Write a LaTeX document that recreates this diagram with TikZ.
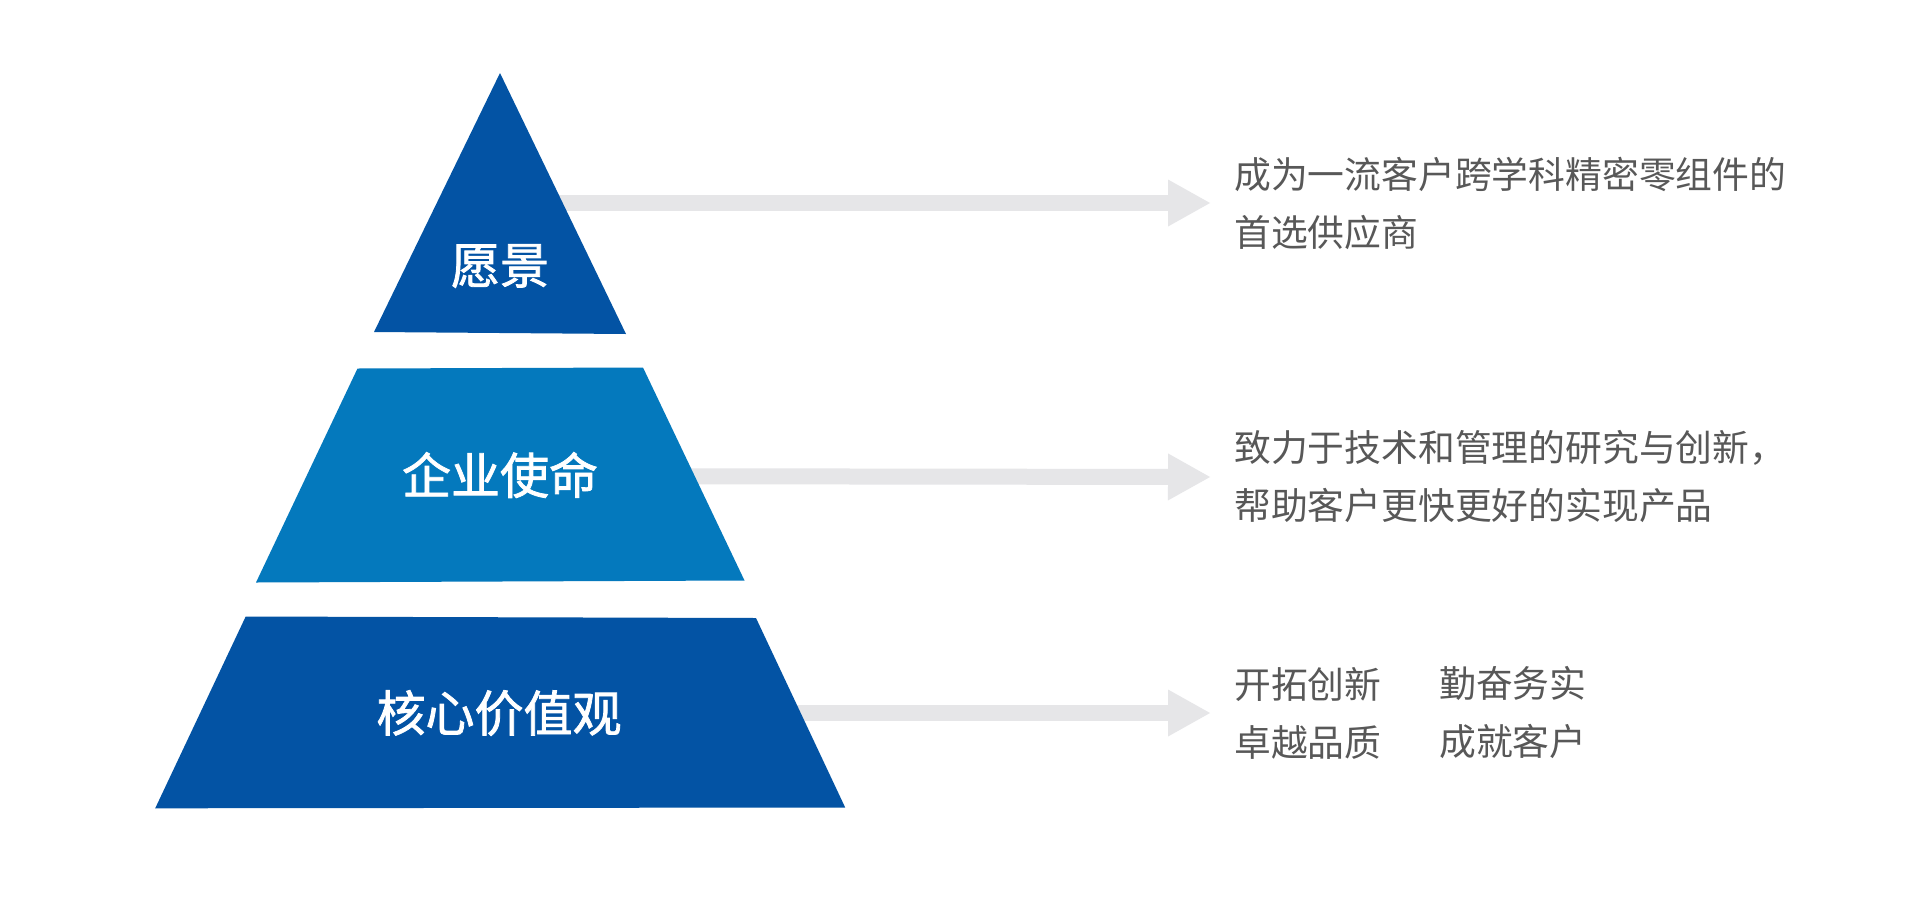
\documentclass[tikz,border=0pt]{standalone}
\usepackage{fontspec}
\newfontfamily\cjk{Noto Sans CJK SC}
\newfontfamily\cjktitle{Noto Sans CJK SC}[FakeBold=1.6]
\usetikzlibrary{arrows.meta}
\definecolor{darkblue}{HTML}{0353A4}
\definecolor{midblue}{HTML}{0479BD}
\definecolor{bargray}{HTML}{E6E6E8}
\definecolor{txtgray}{HTML}{585858}
\begin{document}
\begin{tikzpicture}[x=1pt,y=-1pt,
  title/.style={text=white, font=\cjktitle\fontsize{49}{58}\selectfont, inner sep=0pt},
  desc/.style={text=txtgray, font=\cjk\fontsize{36.8}{58}\selectfont, align=left, anchor=west, inner sep=0pt},
  bar/.style={draw=bargray, line width=16pt, -{Triangle[length=42pt,width=47pt,line width=0pt]}}]
\useasboundingbox[fill=white] (0,0) rectangle (1920,900);
% arrow anchors
\coordinate (s1) at (500,203);
\coordinate (s2) at (500,476);
\coordinate (s3) at (500,713);
\node[desc] (d1) at (1234,203) {成为一流客户跨学科精密零组件的\\首选供应商};
\node[desc] (d2) at (1234,477) {致力于技术和管理的研究与创新，\\帮助客户更快更好的实现产品};
\node[desc] (d3a) at (1234,713) {开拓创新\\卓越品质};
\node[desc] (d3b) at (1439,713) {勤奋务实\\成就客户};
\draw[bar] (s1) -- (d1.west -| 1210,0);
\draw[bar] (s2) -- (d2.west -| 1210,0);
\draw[bar] (s3) -- (d3a.west -| 1210,0);
% pyramid
\fill[darkblue] (500,73) -- (626,334) -- (374,332) -- cycle;
\fill[midblue] (357.5,368.5) -- (643,367.5) -- (744.5,580.5) -- (256,582.5) -- cycle;
\fill[darkblue] (245.7,616.5) -- (756,618) -- (845.2,807.5) -- (155.2,808.3) -- cycle;
\node[title] (t1) at (500,266) {愿景};
\node[title] (t2) at (500,475) {企业使命};
\node[title] (t3) at (499,713) {核心价值观};
\end{tikzpicture}
\end{document}
